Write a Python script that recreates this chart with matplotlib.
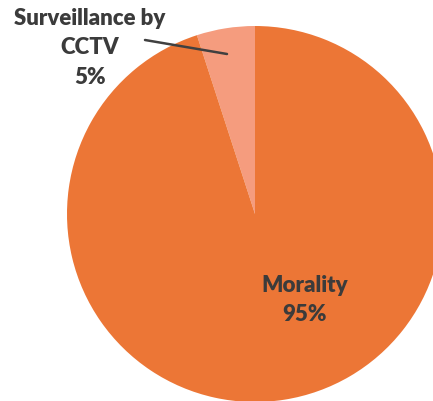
import matplotlib.pyplot as plt

categories = ["Surveillance by\nCCTV", "Morality"]
shares = [5, 95]
colors = ["#F59C7E", "#EC7636"]

W, H = 433, 401
cx, cy, r = 255, 214, 188   # pie centre / radius in pixels

fig = plt.figure(figsize=(W / 100, H / 100), dpi=100)
ax = fig.add_axes([(cx - r) / W, (H - cy - r) / H, 2 * r / W, 2 * r / H])
ax.pie(shares, colors=colors, startangle=90, counterclock=True,
       wedgeprops=dict(linewidth=0))
ax.set_xlim(-1, 1)
ax.set_ylim(-1, 1)
ax.set_aspect("auto")

font = dict(family=["Lato", "DejaVu Sans"], fontsize=16, fontweight="heavy",
            color="#3B3B3B", ha="center", va="center", linespacing=1.48)

def px(x, y):
    return ((x - cx) / r, (cy - y) / r)

ax.annotate("", xy=px(227, 54), xytext=px(145, 40),
            arrowprops=dict(arrowstyle="-", color="#404040", lw=1.8,
                            shrinkA=0, shrinkB=0), annotation_clip=False)
ax.text(*px(90, 48), f"{categories[0]}\n{shares[0]}%", clip_on=False, **font)
ax.text(*px(305, 300), f"{categories[1]}\n{shares[1]}%", clip_on=False, **font)

fig.savefig("out.png", dpi=100)
